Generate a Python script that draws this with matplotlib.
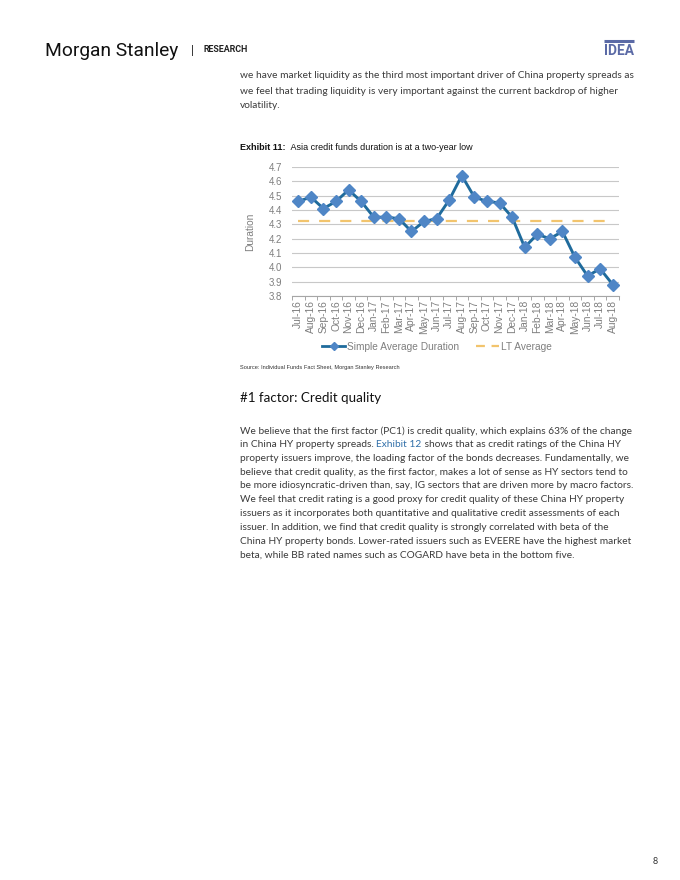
import numpy as np
import matplotlib
matplotlib.use("Agg")
import matplotlib.pyplot as plt
from matplotlib.lines import Line2D

# ---------------- data ----------------
months = ["Jul-16", "Aug-16", "Sep-16", "Oct-16", "Nov-16", "Dec-16",
          "Jan-17", "Feb-17", "Mar-17", "Apr-17", "May-17", "Jun-17",
          "Jul-17", "Aug-17", "Sep-17", "Oct-17", "Nov-17", "Dec-17",
          "Jan-18", "Feb-18", "Mar-18", "Apr-18", "May-18", "Jun-18",
          "Jul-18", "Aug-18"]
avg_duration = [4.46, 4.49, 4.41, 4.46, 4.54, 4.46,
                4.35, 4.35, 4.34, 4.25, 4.32, 4.34,
                4.47, 4.64, 4.49, 4.46, 4.45, 4.35,
                4.14, 4.23, 4.20, 4.25, 4.07, 3.94,
                3.99, 3.88]
lt_average = [4.32] * len(months)
y_ticks = [3.8, 3.9, 4.0, 4.1, 4.2, 4.3, 4.4, 4.5, 4.6, 4.7]

intro_lines = [
    "we have market liquidity as the third most important driver of China property spreads as",
    "we feel that trading liquidity is very important against the current backdrop of higher",
    "volatility.",
]
para_lines = [
    "We believe that the first factor (PC1) is credit quality, which explains 63% of the change",
    "in China HY property spreads. |Exhibit 12| shows that as credit ratings of the China HY",
    "property issuers improve, the loading factor of the bonds decreases. Fundamentally, we",
    "believe that credit quality, as the first factor, makes a lot of sense as HY sectors tend to",
    "be more idiosyncratic-driven than, say, IG sectors that are driven more by macro factors.",
    "We feel that credit rating is a good proxy for credit quality of these China HY property",
    "issuers as it incorporates both quantitative and qualitative credit assessments of each",
    "issuer. In addition, we find that credit quality is strongly correlated with beta of the",
    "China HY property bonds. Lower-rated issuers such as EVEERE have the highest market",
    "beta, while BB rated names such as COGARD have beta in the bottom five.",
]

W, H = 680, 880
BODY = "Lato"
CHART = "Liberation Sans"
TXT = "#3a3a3a"
GRAY = "#7f7f7f"

fig = plt.figure(figsize=(W / 100, H / 100), dpi=100)
fig.patch.set_facecolor("white")
page = fig.add_axes([0, 0, 1, 1])
page.set_xlim(0, W); page.set_ylim(H, 0); page.axis("off")
renderer = fig.canvas.get_renderer()


def fit_size(text, target_px, **kw):
    t = page.text(0, 0, text, fontsize=10, **kw)
    w = t.get_window_extent(renderer).width
    t.remove()
    return 10 * target_px / w


def chain(prev, text, **kw):
    # continue a line right after the previous text piece
    return page.annotate(text, xy=(1, 0.5), xycoords=prev, va="center", ha="left", **kw)


# ---------------- header ----------------
ms_size = fit_size("Morgan Stanley", 133, family="Roboto")
page.text(45, 51, "Morgan Stanley", family="Roboto", fontsize=ms_size, color="#111111", va="center")
page.text(192, 51, "|", family="Roboto", fontsize=9, color="#222222", va="center", ha="center")
page.text(203, 50, "RESEARCH", family="Roboto", fontsize=fit_size("RESEARCH", 45, family="Roboto", weight="bold"),
          weight="bold", color="#222222", va="center")
page.plot([604, 634], [41.5, 41.5], color="#5b6aa6", lw=2.2, solid_capstyle="butt")
page.text(619, 51, "IDEA", family="Roboto", weight="bold", fontsize=fit_size("IDEA", 30, family="Roboto", weight="bold"),
          color="#5b6aa6", ha="center", va="center")

# ---------------- body text ----------------
body_size = fit_size(intro_lines[0], 392, family=BODY)
for i, line in enumerate(intro_lines):
    page.text(240, 76 + i * 15, line, family=BODY, fontsize=body_size, color=TXT, va="center")

page.text(240, 398, "#1 factor: Credit quality", family=BODY,
          fontsize=fit_size("#1 factor: Credit quality", 141, family=BODY), color="#111111", va="center")

for i, line in enumerate(para_lines):
    y = 431 + i * 13.75
    if "|" in line:
        a, b, c = line.split("|")
        t = page.text(240, y, a, family=BODY, fontsize=body_size, color=TXT, va="center")
        t2 = chain(t, b, family=BODY, fontsize=body_size, color="#2f6ea8")
        chain(t2, c, family=BODY, fontsize=body_size, color=TXT)
    else:
        page.text(240, y, line, family=BODY, fontsize=body_size, color=TXT, va="center")

# exhibit title
ex_size = fit_size("Exhibit 11:  Asia credit funds duration is at a two-year low", 229, family=CHART)
t = page.text(240, 148, "Exhibit 11:", family=CHART, weight="bold", fontsize=ex_size, color="#111111", va="center")
chain(t, "  Asia credit funds duration is at a two-year low", family=CHART, fontsize=ex_size, color="#111111")

page.text(240, 367, "Source: Individual Funds Fact Sheet, Morgan Stanley Research", family=CHART,
          fontsize=fit_size("Source: Individual Funds Fact Sheet, Morgan Stanley Research", 160, family=CHART),
          color="#333333", va="center")

page.text(655, 861, "8", family=BODY, fontsize=6.5, color="#333333", va="center", ha="center")

# ---------------- chart ----------------
x0, x1, ytop, ybot = 292, 619, 167, 296
ax = fig.add_axes([x0 / W, 1 - ybot / H, (x1 - x0) / W, (ybot - ytop) / H])
x = np.arange(len(months))

ax.plot(x, lt_average, color="#f2c46d", lw=1.6, dashes=(5, 4.5), zorder=2)
ax.plot(x, avg_duration, color="#1f6b9c", lw=2.1, marker="D", markersize=6,
        markerfacecolor="#4f86c6", markeredgecolor="#4f86c6", zorder=3)

ax.set_xlim(-0.5, len(months) - 0.5)
ax.set_ylim(3.8, 4.7)
ax.set_yticks(y_ticks)
ax.set_yticklabels([f"{v:.1f}" for v in y_ticks], family=CHART, fontsize=7, color=GRAY)
ax.tick_params(axis="y", length=0, pad=7)
ax.set_xticks(x)
ax.set_xticklabels(months, rotation=90, family=CHART, fontsize=7.4, color=GRAY)
ax.set_xticks(np.arange(-0.5, len(months)), minor=True)
ax.tick_params(axis="x", which="major", length=0, pad=3)
ax.tick_params(axis="x", which="minor", length=3, color="#a6a6a6", width=0.7)
ax.grid(axis="y", color="#c8c8c8", lw=0.8)
ax.set_axisbelow(True)
for s in ["left", "right", "top"]:
    ax.spines[s].set_visible(False)
ax.spines["bottom"].set_color("#a6a6a6")
ax.spines["bottom"].set_linewidth(0.8)
ax.set_facecolor("none")
ax.set_ylabel("Duration", family=CHART, fontsize=7.3, color=GRAY, labelpad=10)

handles = [
    Line2D([], [], color="#1f6b9c", lw=2.0, marker="D", markersize=4.5,
           markerfacecolor="#4f86c6", markeredgecolor="#4f86c6"),
    Line2D([], [], color="#f2c46d", lw=1.6, dashes=(4, 3)),
]
fig.legend(handles, ["Simple Average Duration", "LT Average"], loc="center",
           bbox_to_anchor=(437 / W, 1 - 347 / H), ncol=2, frameon=False,
           prop={"family": CHART, "size": 7.3}, labelcolor=GRAY, numpoints=1,
           handlelength=2.3, handletextpad=0.2, columnspacing=1.6)

fig.savefig("out.png", dpi=100, facecolor="white")
